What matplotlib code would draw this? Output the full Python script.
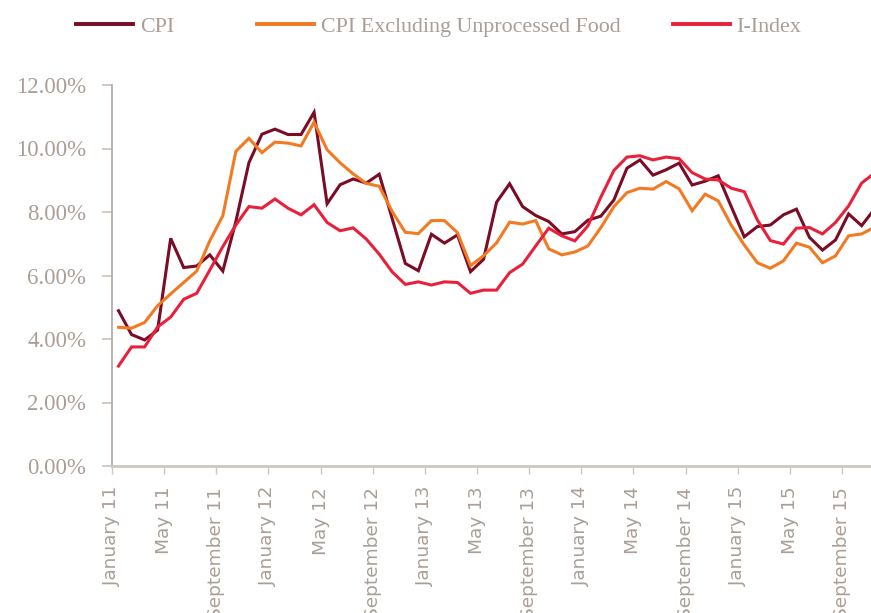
import matplotlib
matplotlib.use("Agg")
import matplotlib.pyplot as plt
from matplotlib.lines import Line2D
import numpy as np

months = ["January", "February", "March", "April", "May", "June", "July",
          "August", "September", "October", "November", "December"]
years = ["11", "12", "13", "14", "15"]
periods = [f"{m} {y}" for y in years for m in months][:59]  # Jan 2011 - Nov 2015

cpi = [4.89, 4.14, 3.97, 4.28, 7.17, 6.25, 6.30, 6.65, 6.14, 7.70, 9.55, 10.45,
       10.61, 10.44, 10.44, 11.14, 8.26, 8.86, 9.04, 8.91, 9.19, 7.78, 6.38, 6.15,
       7.30, 7.02, 7.28, 6.12, 6.51, 8.31, 8.89, 8.17, 7.89, 7.70, 7.31, 7.38,
       7.74, 7.87, 8.38, 9.38, 9.64, 9.16, 9.33, 9.54, 8.85, 8.97, 9.14, 8.17,
       7.22, 7.54, 7.59, 7.91, 8.09, 7.20, 6.80, 7.12, 7.94, 7.57, 8.10]
cpi_ex_food = [4.37, 4.34, 4.52, 5.05, 5.42, 5.78, 6.14, 7.09, 7.88, 9.91, 10.32, 9.87,
               10.20, 10.17, 10.08, 10.83, 9.96, 9.55, 9.20, 8.90, 8.81, 8.01, 7.36, 7.32,
               7.73, 7.73, 7.35, 6.31, 6.62, 7.03, 7.68, 7.62, 7.73, 6.84, 6.65, 6.74,
               6.93, 7.51, 8.17, 8.61, 8.75, 8.72, 8.96, 8.73, 8.04, 8.56, 8.35, 7.59,
               6.96, 6.40, 6.23, 6.46, 7.02, 6.89, 6.40, 6.62, 7.25, 7.31, 7.52]
i_index = [3.15, 3.75, 3.75, 4.38, 4.69, 5.25, 5.44, 6.17, 6.91, 7.59, 8.17, 8.12,
           8.41, 8.12, 7.91, 8.23, 7.67, 7.41, 7.50, 7.15, 6.67, 6.11, 5.72, 5.80,
           5.70, 5.80, 5.78, 5.44, 5.54, 5.54, 6.09, 6.36, 6.93, 7.49, 7.25, 7.09,
           7.56, 8.47, 9.31, 9.73, 9.77, 9.64, 9.73, 9.68, 9.24, 9.04, 9.01, 8.75,
           8.64, 7.75, 7.10, 6.99, 7.49, 7.51, 7.31, 7.67, 8.19, 8.91, 9.23]

series_names = ["CPI", "CPI Excluding Unprocessed Food", "I-Index"]
colors = ["#7b0c26", "#f27a22", "#e8203b"]
text_color = "#ab9e96"

fig = plt.figure(figsize=(8.71, 6.13), dpi=100)
ax = fig.add_axes([112 / 871, (613 - 466) / 613, (871 - 112) / 871, (466 - 85) / 613])

x = np.arange(len(periods))
handles = []
for vals, name, c in zip([cpi, cpi_ex_food, i_index], series_names, colors):
    h, = ax.plot(x, vals, color=c, lw=2.2, solid_joinstyle="miter", label=name)
    handles.append(h)

ax.set_ylim(0, 12)
ax.set_xlim(-0.5, 57.72)
ax.set_yticks(np.arange(0, 12.01, 2))
ax.set_yticklabels([f"{v:.2f}%" for v in np.arange(0, 12.01, 2)],
                   family="Liberation Serif", fontsize=16.5, color=text_color)
tick_idx = list(range(0, len(periods), 4))
ax.set_xticks([i - 0.5 for i in tick_idx])
ax.set_xticklabels([periods[i] for i in tick_idx], rotation=90,
                   family="DejaVu Sans", fontsize=13.3, color=text_color,
                   va="top", ha="center")

for s in ["top", "right"]:
    ax.spines[s].set_visible(False)
ax.spines["left"].set_color("#b3a79f")
ax.spines["left"].set_linewidth(1.2)
ax.spines["bottom"].set_color("#cdc7c3")
ax.spines["bottom"].set_linewidth(2.0)
ax.tick_params(axis="y", length=7.5, width=1.3, color="#cdc7c3", pad=11)
ax.tick_params(axis="x", length=6, width=1.0, color="#cdc7c3", pad=9)

# legend entries placed individually
leg_x = [76 / 871, 257 / 871, 673 / 871]
for h, lx in zip(handles, leg_x):
    lh = Line2D([], [], color=h.get_color(), lw=2.8)
    fig.legend(handles=[lh], labels=[h.get_label()], loc="center left",
               bbox_to_anchor=(lx, 1 - 27 / 613), frameon=False,
               borderpad=0, borderaxespad=0, handlelength=2.6, handletextpad=0.3,
               prop={"family": "Liberation Serif", "size": 15.8},
               labelcolor=text_color)

fig.savefig("out.png", dpi=100)
